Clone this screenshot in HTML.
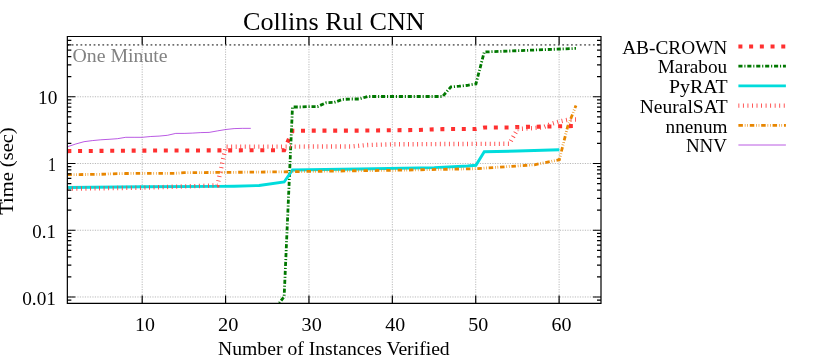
<!DOCTYPE html>
<html><head><meta charset="utf-8"><title>Collins Rul CNN</title>
<style>
html,body{margin:0;padding:0;background:#fff;}
body{width:830px;height:356px;overflow:hidden;font-family:"Liberation Serif",serif;}
svg text{font-family:"Liberation Serif",serif;}
</style></head><body>
<svg width="830" height="356" viewBox="0 0 830 356" style="display:block;will-change:transform">
<rect width="830" height="356" fill="#fff"/>
<path d="M142.19 36.5 V303.45 M225.58 36.5 V303.45 M308.96 36.5 V303.45 M392.34 36.5 V303.45 M475.73 36.5 V303.45 M559.11 36.5 V303.45 M67.35 296.98 H601.0 M67.35 230.24 H601.0 M67.35 163.51 H601.0 M67.35 96.77 H601.0" stroke="#a8a8a8" stroke-width="0.8" stroke-dasharray="1.2 1.3" fill="none"/>
<path d="M67.35 44.84 H601.0" stroke="#707070" stroke-width="1.6" stroke-dasharray="1.75 2.63" fill="none"/>
<text x="72.46" y="61.9" font-size="19.4" textLength="95.18" lengthAdjust="spacingAndGlyphs" fill="#828282">One Minute</text>
<clipPath id="c"><rect x="67.35" y="36.5" width="533.65" height="266.95"/></clipPath>
<g clip-path="url(#c)" fill="none" stroke-linejoin="miter">
<path d="M67.35 151.10 L142.39 150.60 L284.15 150.20 L292.48 130.70 L359.19 130.60 L417.56 130.00 L434.23 129.40 L442.57 129.10 L475.93 129.00 L484.26 127.50 L509.28 127.50 L517.62 127.00 L559.31 126.30 L575.99 126.00" stroke="#ff3030" stroke-width="4.1" stroke-dasharray="4.0 6.72"/>
<path d="M275.81 307.80 L284.15 296.50 L292.48 107.00 L300.82 107.00 L309.16 106.60 L317.50 106.60 L325.84 102.80 L334.17 102.40 L342.51 99.40 L350.85 99.00 L359.19 99.00 L367.53 96.50 L442.57 96.50 L450.91 86.90 L459.25 86.20 L467.59 85.30 L475.93 83.90 L484.26 52.00 L575.99 48.40" stroke="#007800" stroke-width="2.8" stroke-dasharray="4.1 1.84 1.13 1.84"/>
<path d="M67.35 187.50 L142.39 186.80 L217.44 186.40 L234.12 186.20 L259.13 185.50 L284.15 182.00 L292.48 170.00 L359.19 169.00 L434.23 167.60 L467.59 166.00 L475.93 165.30 L484.26 151.80 L517.62 151.00 L559.31 149.80" stroke="#00dcdc" stroke-width="2.9"/>
<path d="M67.35 188.70 L142.39 187.70 L217.44 185.40 L225.78 146.70 L350.85 146.50 L367.53 145.00 L392.54 144.30 L475.93 143.90 L509.28 143.80 L517.62 129.00 L525.96 128.50 L542.63 127.50 L550.97 124.00 L559.31 121.50 L567.65 119.70 L575.99 119.50" stroke="#ff4646" stroke-width="4.4" stroke-dasharray="0.9 3.638"/>
<path d="M67.35 174.70 L100.70 174.30 L109.04 173.90 L125.72 173.50 L142.39 173.40 L175.75 173.30 L184.09 172.70 L225.78 172.40 L284.15 171.80 L309.16 171.40 L392.54 170.30 L475.93 168.70 L534.29 164.80 L559.31 159.70 L567.65 126.60 L575.99 105.40" stroke="#e88600" stroke-width="2.8" stroke-dasharray="4.5 1.9 0.6 1.9 0.6 1.89"/>
<path d="M67.35 146.80 L75.69 144.00 L84.03 141.70 L92.36 140.60 L100.70 139.80 L109.04 139.30 L117.38 138.70 L125.72 137.30 L134.06 137.30 L142.39 137.30 L150.73 136.50 L159.07 136.10 L167.41 135.30 L175.75 133.40 L184.09 133.40 L192.42 133.10 L200.76 132.60 L209.10 132.40 L217.44 130.90 L225.78 129.50 L234.12 128.60 L242.45 128.35 L250.79 128.35" stroke="#9400d3" stroke-width="0.65"/>
</g>
<path d="M67.35 36.5 H601.0 V303.45 H67.35 Z M142.19 303.45 v-8 M142.19 36.5 v8 M225.58 303.45 v-8 M225.58 36.5 v8 M308.96 303.45 v-8 M308.96 36.5 v8 M392.34 303.45 v-8 M392.34 36.5 v8 M475.73 303.45 v-8 M475.73 36.5 v8 M559.11 303.45 v-8 M559.11 36.5 v8 M67.35 303.45 h4 M601.0 303.45 h-4 M67.35 300.04 h4 M601.0 300.04 h-4 M67.35 296.98 h8 M601.0 296.98 h-8 M67.35 276.89 h4 M601.0 276.89 h-4 M67.35 265.14 h4 M601.0 265.14 h-4 M67.35 256.80 h4 M601.0 256.80 h-4 M67.35 250.33 h4 M601.0 250.33 h-4 M67.35 245.05 h4 M601.0 245.05 h-4 M67.35 240.58 h4 M601.0 240.58 h-4 M67.35 236.71 h4 M601.0 236.71 h-4 M67.35 233.30 h4 M601.0 233.30 h-4 M67.35 230.24 h8 M601.0 230.24 h-8 M67.35 210.15 h4 M601.0 210.15 h-4 M67.35 198.40 h4 M601.0 198.40 h-4 M67.35 190.06 h4 M601.0 190.06 h-4 M67.35 183.60 h4 M601.0 183.60 h-4 M67.35 178.31 h4 M601.0 178.31 h-4 M67.35 173.85 h4 M601.0 173.85 h-4 M67.35 169.97 h4 M601.0 169.97 h-4 M67.35 166.56 h4 M601.0 166.56 h-4 M67.35 163.51 h8 M601.0 163.51 h-8 M67.35 143.42 h4 M601.0 143.42 h-4 M67.35 131.67 h4 M601.0 131.67 h-4 M67.35 123.33 h4 M601.0 123.33 h-4 M67.35 116.86 h4 M601.0 116.86 h-4 M67.35 111.58 h4 M601.0 111.58 h-4 M67.35 107.11 h4 M601.0 107.11 h-4 M67.35 103.24 h4 M601.0 103.24 h-4 M67.35 99.82 h4 M601.0 99.82 h-4 M67.35 96.77 h8 M601.0 96.77 h-8 M67.35 76.68 h4 M601.0 76.68 h-4 M67.35 64.93 h4 M601.0 64.93 h-4 M67.35 56.59 h4 M601.0 56.59 h-4 M67.35 50.12 h4 M601.0 50.12 h-4 M67.35 44.84 h4 M601.0 44.84 h-4 M67.35 40.37 h4 M601.0 40.37 h-4 M67.35 36.50 h4 M601.0 36.50 h-4" stroke="#000" stroke-width="1.2" fill="none"/>
<text x="243.00" y="29.7" font-size="26.0" textLength="181.73" lengthAdjust="spacingAndGlyphs">Collins Rul CNN</text>
<text x="135.06" y="330.6" font-size="19.4" textLength="19.89" lengthAdjust="spacingAndGlyphs">10</text>
<text x="218.04" y="330.6" font-size="19.4" textLength="20.33" lengthAdjust="spacingAndGlyphs">20</text>
<text x="301.64" y="330.6" font-size="19.4" textLength="20.22" lengthAdjust="spacingAndGlyphs">30</text>
<text x="385.25" y="330.6" font-size="19.4" textLength="19.89" lengthAdjust="spacingAndGlyphs">40</text>
<text x="468.15" y="330.6" font-size="19.4" textLength="20.00" lengthAdjust="spacingAndGlyphs">50</text>
<text x="551.55" y="330.6" font-size="19.4" textLength="20.00" lengthAdjust="spacingAndGlyphs">60</text>
<text x="38.11" y="103.8" font-size="19.4" textLength="19.31" lengthAdjust="spacingAndGlyphs">10</text>
<text x="48.01" y="170.8" font-size="19.4" textLength="8.00" lengthAdjust="spacingAndGlyphs">1</text>
<text x="32.30" y="237.8" font-size="19.4" textLength="23.59" lengthAdjust="spacingAndGlyphs">0.1</text>
<text x="22.18" y="304.6" font-size="19.4" textLength="33.73" lengthAdjust="spacingAndGlyphs">0.01</text>
<text x="218.06" y="354.6" font-size="19.4" textLength="231.65" lengthAdjust="spacingAndGlyphs">Number of Instances Verified</text>
<text transform="translate(13.2 214.76) rotate(-90)" font-size="19.4" textLength="87.39" lengthAdjust="spacingAndGlyphs">Time (sec)</text>
<text x="622.16" y="53.70" font-size="19.4" textLength="105.16" lengthAdjust="spacingAndGlyphs">AB-CROWN</text>
<path d="M738.4 46.50 H785.9" stroke="#ff3030" stroke-width="4.1" stroke-dasharray="4.0 6.72" fill="none"/>
<text x="657.77" y="73.45" font-size="19.4" textLength="69.46" lengthAdjust="spacingAndGlyphs">Marabou</text>
<path d="M738.4 66.20 H785.9" stroke="#007800" stroke-width="2.8" stroke-dasharray="4.1 1.84 1.13 1.84" fill="none"/>
<text x="669.05" y="93.20" font-size="19.4" textLength="58.50" lengthAdjust="spacingAndGlyphs">PyRAT</text>
<path d="M738.4 85.90 H785.9" stroke="#00dcdc" stroke-width="2.9" fill="none"/>
<text x="639.66" y="112.95" font-size="19.4" textLength="87.96" lengthAdjust="spacingAndGlyphs">NeuralSAT</text>
<path d="M738.4 105.60 H785.9" stroke="#ff4646" stroke-width="4.4" stroke-dasharray="0.9 3.638" fill="none"/>
<text x="665.57" y="132.70" font-size="19.4" textLength="61.91" lengthAdjust="spacingAndGlyphs">nnenum</text>
<path d="M738.4 125.30 H785.9" stroke="#e88600" stroke-width="2.8" stroke-dasharray="4.5 1.9 0.6 1.9 0.6 1.89" fill="none"/>
<text x="685.88" y="152.45" font-size="19.4" textLength="41.09" lengthAdjust="spacingAndGlyphs">NNV</text>
<path d="M738.4 145.00 H785.9" stroke="#9400d3" stroke-width="0.65" fill="none"/>
</svg>
</body></html>
